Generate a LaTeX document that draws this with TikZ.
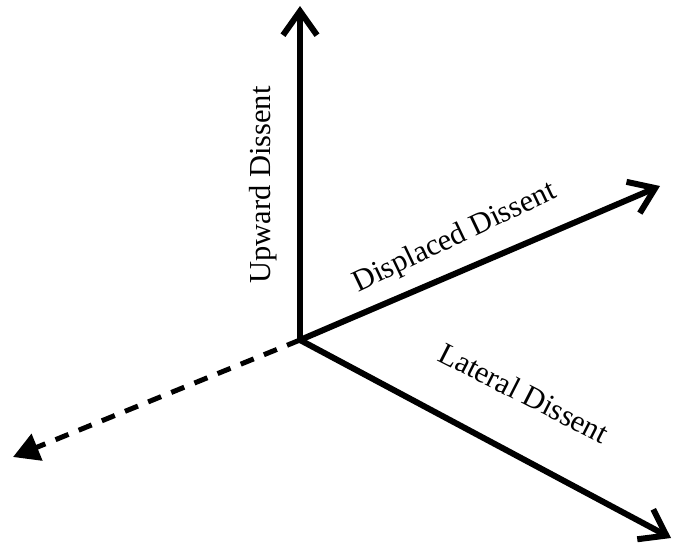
\documentclass[tikz,border=0pt]{standalone}
\usepackage{fontspec}
\setmainfont{Liberation Serif}
\usetikzlibrary{arrows.meta}
\begin{document}
\begin{tikzpicture}[x=1pt,y=-1pt,
  axis/.style={line width=6pt,-{Straight Barb[length=24pt,width=34pt,line width=6pt]}},
  dashaxis/.style={line width=5pt,dash pattern=on 14pt off 11pt,-{Triangle[length=26pt,width=28pt]}},
  lbl/.style={font=\fontsize{30.5}{34}\selectfont,inner sep=0pt}]
\useasboundingbox (0,0) rectangle (674,547);
\coordinate (o) at (300,340);
\coordinate (up) at (300,6);
\coordinate (disp) at (660,186);
\coordinate (lat) at (671,538);
\coordinate (back) at (13,457);
\draw[axis] (o) -- (up);
\draw[axis] (o) -- (disp);
\draw[axis] (o) -- (lat);
\draw[dashaxis] (o) -- (back);
\node[lbl,rotate=90] (tup) at (263,185) {Upward Dissent};
\node[lbl,rotate=25.5] (tdisp) at (455,238) {Displaced Dissent};
\node[lbl,rotate=-27] (tlat) at (524,393) {Lateral Dissent};
\end{tikzpicture}
\end{document}
